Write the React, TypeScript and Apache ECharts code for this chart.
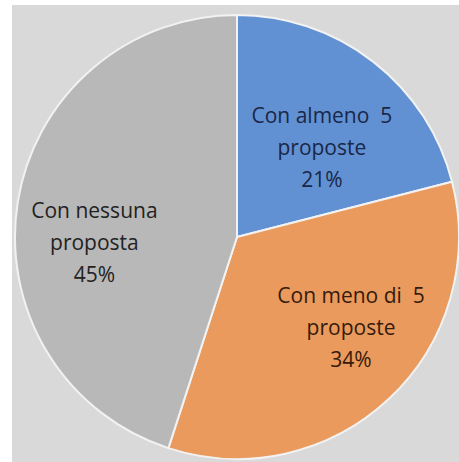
import React, { useEffect, useRef } from "react";
import * as echarts from "echarts";

const categories = ["Con almeno  5\nproposte", "Con meno di  5\nproposte", "Con nessuna\nproposta"];
const values = [21, 34, 45];
const sliceColors = ["#6191d3", "#e99a5c", "#b8b8b8"];
const labelColors = ["#1a2746", "#361b0c", "#222222"];
const labelShift = [
  [15, 0],
  [36, 7],
  [-30, 23],
];

export default function App() {
  const ref = useRef<HTMLDivElement>(null);
  useEffect(() => {
    if (!ref.current) return;
    const chart = echarts.init(ref.current, null, { renderer: "svg" });
    chart.setOption({
      animation: false,
      backgroundColor: "#d9d9d9",
      series: [
        {
          type: "pie",
          center: [225, 232],
          radius: [0, 222],
          startAngle: 90,
          clockwise: true,
          silent: true,
          itemStyle: { borderColor: "#f2f2f2", borderWidth: 2 },
          label: {
            show: true,
            position: "inside",
            fontFamily: "Open Sans",
            fontSize: 21,
            lineHeight: 32,
            align: "center",
            formatter: (p: any) => `${p.name}\n${p.value}%`,
          },
          labelLine: { show: false },
          labelLayout: (params: any) => ({
            dx: labelShift[params.dataIndex][0],
            dy: labelShift[params.dataIndex][1],
          }),
          data: categories.map((name, i) => ({
            name,
            value: values[i],
            itemStyle: { color: sliceColors[i] },
            label: { color: labelColors[i] },
          })),
        },
      ],
    });
    return () => chart.dispose();
  }, []);
  return (
    <div style={{ position: "absolute", left: 0, top: 0, width: 459, height: 462, background: "#ffffff" }}>
      <div ref={ref} style={{ position: "absolute", left: 12, top: 5, width: 447, height: 457 }} />
    </div>
  );
}
